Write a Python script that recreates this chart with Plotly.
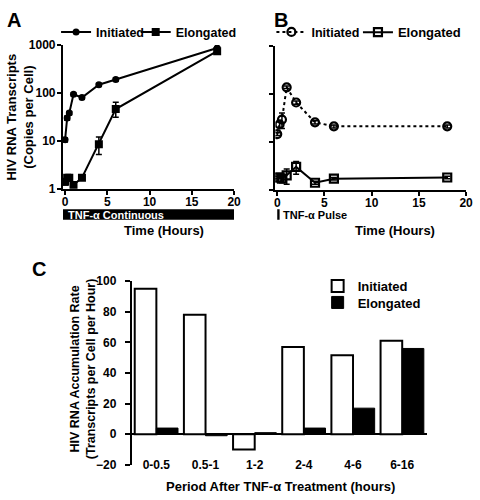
import plotly.graph_objects as go

# ---------------- data ----------------
time_A = [0, 0.25, 0.5, 1, 2, 4, 6, 18]
init_A = [10.5, 30, 38, 93, 80, 148, 190, 860]
init_A_err = [1, 3, 3, 6, 6, 10, 15, 50]
elong_A = [1.4, 1.7, 1.7, 1.2, 1.7, 8.5, 46, 740]
elong_A_err_plus = [0.2, 0.2, 0.2, 0.1, 0.2, 3.5, 18, 40]
elong_A_err_minus = [0.2, 0.2, 0.2, 0.1, 0.2, 3.3, 15, 40]

time_B = [0, 0.25, 0.5, 1, 2, 4, 6, 18]
init_B = [14.5, 23, 29, 137, 66, 25.5, 21, 21]
init_B_err_plus = [1, 3, 11, 8, 5, 2, 1.5, 1.5]
init_B_err_minus = [1, 3, 10, 8, 5, 2, 1.5, 1.5]
elong_B = [1.8, 1.8, 1.7, 2.0, 3.0, 1.4, 1.7, 1.8]
elong_B_err_plus = [0.1, 0.1, 0.3, 0.7, 0.9, 0.1, 0.1, 0.1]
elong_B_err_minus = [0.1, 0.1, 0.3, 0.7, 0.9, 0.1, 0.1, 0.1]

periods = ["0-0.5", "0.5-1", "1-2", "2-4", "4-6", "6-16"]
rate_init = [95, 78, -10, 57, 51.5, 61]
rate_elong = [4, -1, 1, 4, 17, 56]

log_ticks = [1, 10, 100, 1000]
log_ticktext = ["1", "10", "100", "1000"]

# ---------------- helpers ----------------
W, H = 480, 500
def fx(px):
    return px / W
def fy(px):
    return 1 - px / H

FONT = "Liberation Sans, Arial, sans-serif"
def bf(size, color="black"):
    return dict(family=FONT, size=size, color=color, weight="bold")

fig = go.Figure()

# Panel A
fig.add_trace(go.Scatter(
    x=time_A, y=init_A, name="Initiated", mode="lines+markers",
    line=dict(color="black", width=2),
    marker=dict(symbol="circle", size=7, color="black"),
    error_y=dict(type="data", array=init_A_err, color="black", thickness=1.5, width=3),
    xaxis="x", yaxis="y", legend="legend"))
fig.add_trace(go.Scatter(
    x=time_A, y=elong_A, name="Elongated", mode="lines+markers",
    line=dict(color="black", width=2),
    marker=dict(symbol="square", size=8, color="black"),
    error_y=dict(type="data", array=elong_A_err_plus, arrayminus=elong_A_err_minus,
                 color="black", thickness=1.5, width=3),
    xaxis="x", yaxis="y", legend="legend2"))

# Panel B
fig.add_trace(go.Scatter(
    x=time_B, y=init_B, name="Initiated", mode="lines+markers",
    line=dict(color="black", width=2, dash="dot"),
    marker=dict(symbol="circle-open", size=8, color="black", line=dict(width=2.2)),
    error_y=dict(type="data", array=init_B_err_plus, arrayminus=init_B_err_minus,
                 color="black", thickness=1.5, width=3),
    xaxis="x2", yaxis="y2", legend="legend3"))
fig.add_trace(go.Scatter(
    x=time_B, y=elong_B, name="Elongated", mode="lines+markers",
    line=dict(color="black", width=2),
    marker=dict(symbol="square-open", size=8, color="black", line=dict(width=2.2)),
    error_y=dict(type="data", array=elong_B_err_plus, arrayminus=elong_B_err_minus,
                 color="black", thickness=1.5, width=3),
    xaxis="x2", yaxis="y2", legend="legend4"))

# Panel C
fig.add_trace(go.Bar(
    x=periods, y=rate_init, name="Initiated",
    marker=dict(color="white", line=dict(color="black", width=2)),
    xaxis="x3", yaxis="y3", legend="legend5"))
fig.add_trace(go.Bar(
    x=periods, y=rate_elong, name="Elongated",
    marker=dict(color="black", line=dict(color="black", width=1)),
    xaxis="x3", yaxis="y3", legend="legend6"))

axis_common = dict(showline=True, linecolor="black", linewidth=2, ticks="outside",
                   tickcolor="black", tickwidth=2, ticklen=4, showgrid=False,
                   zeroline=False, tickfont=bf(12))

def leg(xpx, ypx, size=12.5):
    return dict(orientation="h", x=fx(xpx), y=fy(ypx), xanchor="left", yanchor="middle",
                font=bf(size), bgcolor="rgba(0,0,0,0)", borderwidth=0)

fig.update_layout(
    width=W, height=H,
    margin=dict(l=0, r=0, t=0, b=0),
    paper_bgcolor="white", plot_bgcolor="white",
    font=bf(12),
    barmode="group", bargap=0.12, bargroupgap=0,
    xaxis=dict(domain=[fx(63), fx(237)], range=[-0.25, 20], anchor="y",
               tickvals=[0, 5, 10, 15, 20], ticklabelstandoff=-3, **axis_common),
    yaxis=dict(domain=[fy(187), fy(39)], type="log", range=[0, 3], anchor="x",
               tickvals=log_ticks, ticktext=log_ticktext, ticklabelstandoff=-1,
               **axis_common),
    xaxis2=dict(domain=[fx(279), fx(473)], range=[-0.2, 20], anchor="y2",
                tickvals=[0, 5, 10, 15, 20], ticklabelstandoff=-3, **axis_common),
    yaxis2=dict(domain=[fy(188), fy(40)], type="log", range=[0, 3], anchor="x2",
                tickvals=log_ticks, showticklabels=False, **axis_common),
    xaxis3=dict(domain=[fx(133), fx(433)], anchor="free", position=fy(462),
                showline=False, ticks="", showgrid=False, zeroline=False,
                tickfont=bf(12)),
    yaxis3=dict(domain=[fy(471), fy(282)], range=[-20, 100], anchor="x3",
                tickvals=[-20, 0, 20, 40, 60, 80, 100],
                showline=True, linecolor="black", linewidth=2, ticks="outside",
                tickcolor="black", tickwidth=2, ticklen=5, showgrid=False,
                zeroline=True, zerolinecolor="black", zerolinewidth=2,
                ticklabelstandoff=6, tickfont=bf(12)),
    legend=leg(56, 26),
    legend2=leg(137, 26),
    legend3=leg(275, 26),
    legend4=leg(363, 26, 13),
    legend5=leg(322, 287, 13),
    legend6=leg(322, 304, 13),
    showlegend=True,
)

# Treatment bars below panels A and B
fig.add_shape(type="rect", xref="x", yref="paper", x0=-0.3, x1=20,
              y0=fy(219), y1=fy(208), fillcolor="black", line=dict(width=0))
fig.add_shape(type="rect", xref="x2", yref="paper", x0=0, x1=0.25,
              y0=fy(219), y1=fy(208), fillcolor="black", line=dict(width=0))

annotations = [
    dict(text="TNF-α Continuous", x=fx(66), y=fy(213.5), xanchor="left", yanchor="middle",
         font=bf(11, "white")),
    dict(text="TNF-α Pulse", x=fx(285), y=fy(213.5), xanchor="left", yanchor="middle",
         font=bf(11)),
    dict(text="Time (Hours)", x=fx(166), y=fy(230), xanchor="center", yanchor="middle",
         font=bf(13)),
    dict(text="Time (Hours)", x=fx(401), y=fy(230), xanchor="center", yanchor="middle",
         font=bf(13)),
    dict(text="HIV RNA Transcripts<br>(Copies per Cell)", x=fx(19), y=fy(113),
         xanchor="center", yanchor="middle", textangle=-90, font=bf(13)),
    dict(text="HIV RNA Accumulation Rate<br>(Transcripts per Cell per Hour)", x=fx(83),
         y=fy(372), xanchor="center", yanchor="middle", textangle=-90, font=bf(12.5)),
    dict(text="Period After TNF-α Treatment (hours)", x=fx(284), y=fy(493),
         xanchor="center", yanchor="middle", font=bf(13)),
    dict(text="A", x=fx(4), y=fy(13), xanchor="left", yanchor="middle", font=bf(20)),
    dict(text="B", x=fx(276), y=fy(13), xanchor="left", yanchor="middle", font=bf(20)),
    dict(text="C", x=fx(29), y=fy(270), xanchor="left", yanchor="middle", font=bf(20)),
]
for a in annotations:
    a.update(xref="paper", yref="paper", showarrow=False)
fig.update_layout(annotations=annotations)

fig.write_html("out.html",
               config={"displayModeBar": False},
               post_script="document.body.style.margin='0';document.body.style.overflow='hidden';")
